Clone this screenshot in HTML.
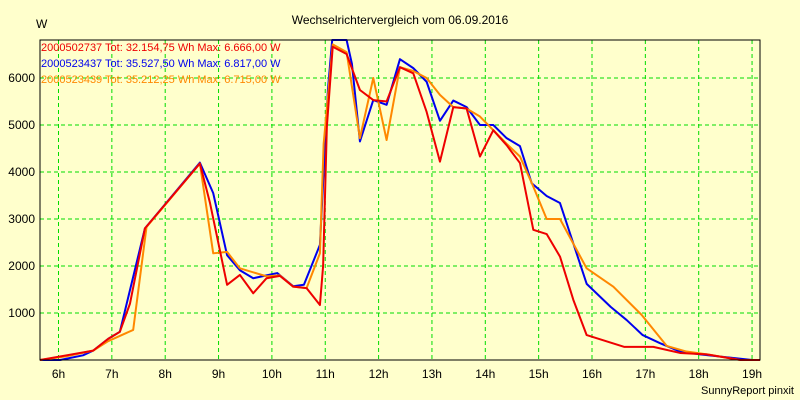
<!DOCTYPE html>
<html><head><meta charset="utf-8"><style>
body{margin:0;background:#ffffcc;}
svg{display:block;font-family:"Liberation Sans",sans-serif;}
</style></head><body>
<svg id="chart" width="800" height="400">
<rect x="0" y="0" width="800" height="400" fill="#ffffcc"/>
<text x="400" y="24" font-size="12" text-anchor="middle" fill="#000">Wechselrichtervergleich vom 06.09.2016</text>
<text x="36" y="28" font-size="12" fill="#000">W</text>
<g id="grid"></g><g id="series"></g><g id="axes"></g>
<text x="794" y="394" font-size="11" text-anchor="end" fill="#000">SunnyReport pinxit</text>
</svg>
<script>
const xTicks=[6,7,8,9,10,11,12,13,14,15,16,17,18,19];
const yTicks=[1000,2000,3000,4000,5000,6000];
const seriesNames=["2000502737 Tot: 32.154,75 Wh Max: 6.666,00 W","2000523437 Tot: 35.527,50 Wh Max: 6.817,00 W","2000523439 Tot: 35.212,25 Wh Max: 6.715,00 W"];
const seriesColors=["#ee0000","#0000ee","#ff8800"];
const blueT=[5.65,6.03,6.46,6.65,6.93,7.15,7.62,8.65,8.9,9.16,9.4,9.65,9.9,10.1,10.4,10.6,10.9,11.05,11.13,11.4,11.5,11.65,11.9,12.15,12.4,12.65,12.9,13.15,13.4,13.65,13.9,14.15,14.4,14.65,14.87,15.15,15.4,15.9,16.35,16.65,16.95,17.27,17.65,18.03,18.5,19,19.15];
const blueV=[0,0,100,200,450,600,2800,4200,3550,2230,1910,1740,1800,1850,1570,1600,2450,5750,6817,6817,6300,4650,5530,5430,6400,6210,5920,5090,5520,5380,5000,5000,4720,4550,3760,3490,3340,1620,1130,850,530,360,180,120,60,0,0];
const redT=[5.65,6.15,6.65,6.93,7.15,7.34,7.62,8.65,8.84,9.16,9.4,9.65,9.9,10.15,10.4,10.65,10.9,10.96,11.03,11.14,11.4,11.65,11.9,12.15,12.4,12.65,12.9,13.15,13.4,13.65,13.9,14.15,14.4,14.65,14.9,15.15,15.4,15.65,15.9,16.6,17.15,17.65,18.15,18.78,19.15];
const redV=[0,100,200,450,600,1200,2800,4180,3340,1600,1810,1420,1740,1790,1560,1530,1170,2000,4960,6666,6510,5745,5530,5500,6230,6100,5280,4220,5380,5350,4330,4890,4570,4190,2770,2680,2200,1280,530,280,280,150,120,0,0];
const orangeT=[5.65,6.15,6.65,6.93,7.4,7.65,8.65,8.9,9.16,9.4,9.9,10.15,10.4,10.65,10.9,10.97,11.14,11.4,11.65,11.9,12.15,12.4,12.65,12.9,13.15,13.4,13.65,13.9,14.15,14.4,14.65,14.9,15.15,15.4,15.9,16.4,16.93,17.4,17.77,18.27,18.78,19.15];
const orangeV=[0,80,200,400,640,2830,4180,2270,2300,1950,1780,1800,1560,1530,2270,4600,6715,6550,4720,6000,4680,6230,6150,6000,5640,5380,5350,5180,4890,4600,4330,3690,3000,3000,1950,1560,960,300,180,100,0,0];
const NS="http://www.w3.org/2000/svg";
const L=40,R=760,T=40,B=360;
function xs(h){return Math.max(L,Math.min(R,58.5+(h-6)*53.35));}
function ys(v){return Math.max(T,B-v*0.047);}
function mk(tag,attrs,parent){const e=document.createElementNS(NS,tag);for(const k in attrs)e.setAttribute(k,attrs[k]);parent.appendChild(e);return e;}
const grid=document.getElementById('grid'),axes=document.getElementById('axes'),ser=document.getElementById('series');
xTicks.forEach(h=>{
 const l=mk('line',{x1:xs(h),x2:xs(h),y1:T,y2:B,stroke:'#00dd00','stroke-dasharray':'4,3'},grid);
 
 
 const t=mk('text',{x:xs(h),y:378,'font-size':12,'text-anchor':'middle'},axes);
 t.textContent=h+'h';
 
 
});
yTicks.forEach(v=>{
 const l=mk('line',{x1:L,x2:R,y1:ys(v),y2:ys(v),stroke:'#00dd00','stroke-dasharray':'4,3'},grid);
 
 
 const t=mk('text',{x:35,y:ys(v)+4,'font-size':12,'text-anchor':'end'},axes);
 t.textContent=v;
 
 
});
const fr=mk('rect',{x:L,y:T,width:R-L,height:B-T,fill:'none',stroke:'#000','stroke-width':1},axes);


const data=[[redT,redV],[blueT,blueV],[orangeT,orangeV]];
const order=[1,2,0];
order.forEach(i=>{
 const [t,v]=data[i];
 const p=mk('polyline',{points:t.map((h,j)=>xs(h)+','+ys(v[j])).join(' '),fill:'none',stroke:seriesColors[i],'stroke-width':2,'stroke-linejoin':'round'},ser);
 
 
});
seriesNames.forEach((n,i)=>{
 const t=mk('text',{x:41,y:51+i*16,'font-size':11,fill:seriesColors[i]},axes);
 t.textContent=n;
 
 
});
</script>
</body></html>
